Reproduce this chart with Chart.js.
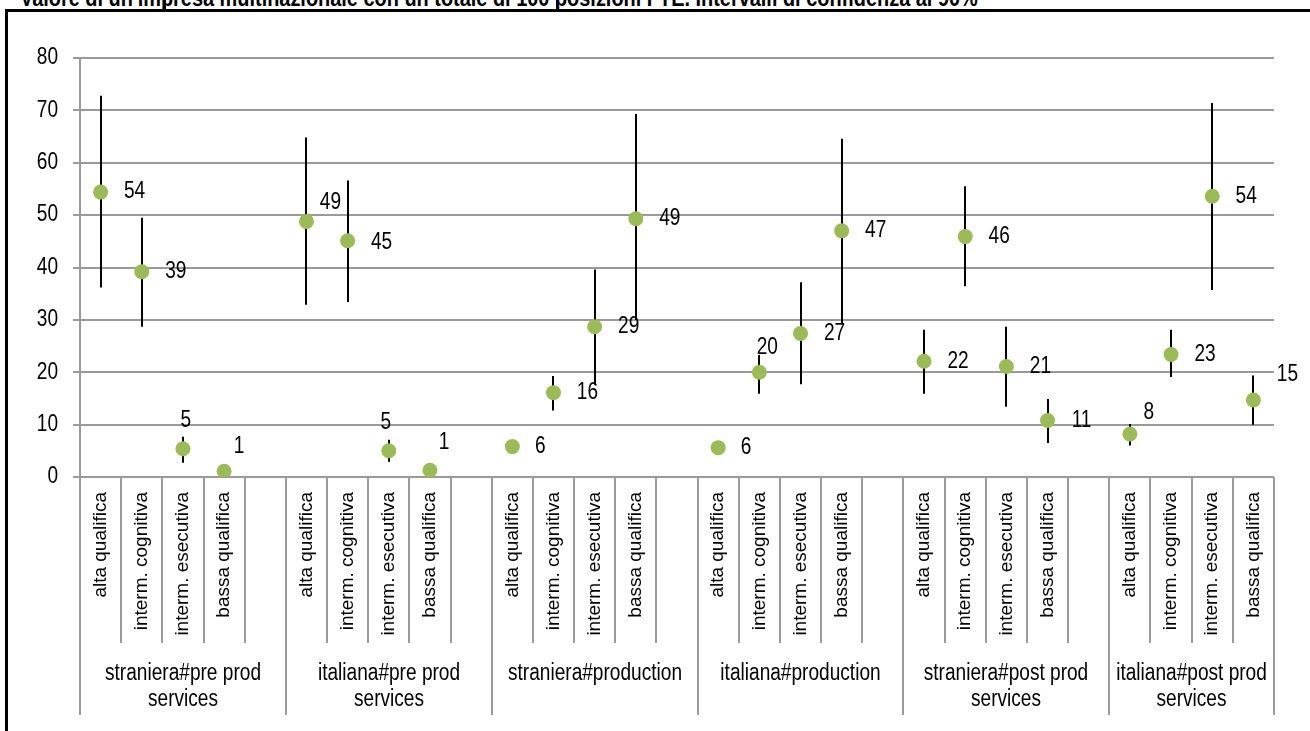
<!DOCTYPE html>
<html>
<head>
<meta charset="utf-8">
<script src="https://cdn.jsdelivr.net/npm/chart.js@4.4.1/dist/chart.umd.min.js"></script>
<style>
  body { margin: 0; background: #fff; overflow: hidden; width: 1310px; height: 731px; position: relative; }
  #title { position: absolute; left: 20px; top: -14px; font: bold 24px 'Liberation Sans', Arial, sans-serif; line-height: 24px; white-space: nowrap; color: #000; transform: scaleX(0.83); transform-origin: 0 0; }
  #frame { position: absolute; left: 5px; top: 9px; width: 1320px; height: 740px; border: 3px solid #000; }
  .stub { position: absolute; top: 0; width: 1px; height: 10px; background: #000; }
  #wrap { position: absolute; left: 0; top: 0; width: 1310px; height: 731px; }
</style>
</head>
<body>
<div id="title">Valore di un'impresa multinazionale con un totale di 100 posizioni FTE. Intervalli di confidenza al 90%</div>
<div id="frame"></div>
<div class="stub" style="left:165px"></div>
<div class="stub" style="left:556px"></div>
<div id="wrap"><canvas id="chart"></canvas></div>
<script>
// categorie
const qualifiche = ["alta qualifica", "interm. cognitiva", "interm. esecutiva", "bassa qualifica"];
const gruppi = [
  ["straniera#pre prod", "services"],
  ["italiana#pre prod", "services"],
  ["straniera#production"],
  ["italiana#production"],
  ["straniera#post prod", "services"],
  ["italiana#post prod", "services"]
];

// stime puntuali (4 per gruppo)
const valori = [
  54.4, 39.2, 5.4, 1.1,
  48.8, 45.1, 5.0, 1.3,
  5.8, 16.1, 28.7, 49.3,
  5.6, 20.0, 27.4, 47.0,
  22.1, 45.9, 21.1, 10.8,
  8.2, 23.4, 53.6, 14.7
];
// intervallo di confidenza 90%
const limiteInf = [
  36.2, 28.7, 2.7, 1.1,
  32.9, 33.4, 2.9, 1.3,
  4.5, 12.7, 17.6, 30.0,
  5.2, 15.9, 17.7, 29.4,
  15.9, 36.4, 13.4, 6.5,
  6.0, 19.1, 35.7, 10.0
];
const limiteSup = [
  72.8, 49.5, 7.7, 1.1,
  64.8, 56.6, 7.1, 1.3,
  7.0, 19.3, 39.6, 69.3,
  6.0, 23.3, 37.2, 64.6,
  28.1, 55.5, 28.7, 14.9,
  10.1, 28.1, 71.4, 19.4
];
const yTicks = [0, 10, 20, 30, 40, 50, 60, 70, 80];

// posizione etichette spostate a mano (come in Excel), default a destra
const spostamenti = { 2: [3, -28], 3: [15, -25], 4: [24, -19], 5: [34, 2], 6: [-3, -28], 7: [14, -28],
  8: [28, 0], 12: [28, 0], 13: [8, -25], 20: [19, -21], 23: [34, -25] };

const FONT = "'Liberation Sans', Arial, sans-serif";
const GRID = "#9a9a9a";
const STRETTO = 0.83; // il testo dell'originale è compresso in orizzontale

function testoStretto(ctx, t, x, y) {
  ctx.save();
  ctx.translate(x, y);
  ctx.scale(STRETTO, 1);
  ctx.fillText(t, 0, 0);
  ctx.restore();
}

// slot: 4 categorie + 1 vuoto tra i gruppi
const etichette = [], dati = [], slotPunto = [], inizioGruppo = [];
gruppi.forEach((g, gi) => {
  inizioGruppo.push(etichette.length);
  qualifiche.forEach((q, qi) => {
    slotPunto.push(etichette.length);
    etichette.push(q);
    dati.push(valori[gi * 4 + qi]);
  });
  if (gi < gruppi.length - 1) { etichette.push(""); dati.push(null); }
});
inizioGruppo.push(etichette.length);

const extra = {
  id: "extra",
  beforeDatasetsDraw(chart) {
    const { ctx, scales: { x, y } } = chart;
    ctx.save();
    ctx.strokeStyle = "#000";
    ctx.lineWidth = 2;
    slotPunto.forEach((s, i) => {
      if (limiteSup[i] - limiteInf[i] < 0.2) return;
      const px = Math.round(x.getPixelForValue(s));
      ctx.beginPath();
      ctx.moveTo(px, y.getPixelForValue(limiteSup[i]));
      ctx.lineTo(px, y.getPixelForValue(limiteInf[i]));
      ctx.stroke();
    });
    ctx.restore();
  },
  afterDatasetsDraw(chart) {
    const { ctx, scales: { x, y } } = chart;
    ctx.save();
    ctx.font = "23px " + FONT;
    ctx.fillStyle = "#000";
    ctx.textAlign = "center";
    ctx.textBaseline = "middle";
    slotPunto.forEach((s, i) => {
      const [dx, dy] = spostamenti[i] || [34, 0];
      testoStretto(ctx, String(Math.round(valori[i])), x.getPixelForValue(s) + dx, y.getPixelForValue(valori[i]) + dy);
    });
    ctx.restore();
  },
  afterDraw(chart) {
    const { ctx, scales: { x, y }, chartArea } = chart;
    const w = x.getPixelForValue(1) - x.getPixelForValue(0);
    const bordo = i => Math.round(x.getPixelForValue(i) - w / 2);
    const top = chartArea.bottom;
    ctx.save();
    // etichette asse y
    ctx.font = "23px " + FONT;
    ctx.fillStyle = "#000";
    ctx.textAlign = "right";
    ctx.textBaseline = "middle";
    y.ticks.forEach(t => testoStretto(ctx, String(t.value), y.right - 22, y.getPixelForValue(t.value)));
    // separatori categorie e gruppi
    ctx.strokeStyle = GRID;
    ctx.lineWidth = 2;
    for (let i = 0; i <= etichette.length; i++) {
      const isGruppo = inizioGruppo.includes(i);
      ctx.beginPath();
      ctx.moveTo(bordo(i), top);
      ctx.lineTo(bordo(i), isGruppo ? x.bottom : top + 166);
      ctx.stroke();
    }
    ctx.textAlign = "center";
    gruppi.forEach((g, gi) => {
      const cx = (bordo(inizioGruppo[gi]) + bordo(inizioGruppo[gi + 1])) / 2;
      g.forEach((riga, r) => testoStretto(ctx, riga, cx, top + 197 + r * 26));
    });
    ctx.restore();
  }
};

new Chart(document.getElementById("chart"), {
  type: "line",
  data: {
    labels: etichette,
    datasets: [{
      data: dati,
      showLine: false,
      pointRadius: 7.5,
      pointHoverRadius: 7.5,
      pointBackgroundColor: "#9bbb59",
      pointBorderWidth: 0,
      borderColor: "#9bbb59"
    }]
  },
  options: {
    responsive: true,
    maintainAspectRatio: false,
    animation: false,
    events: [],
    layout: { padding: { left: 0, right: 36, top: 58, bottom: 16 } },
    scales: {
      x: {
        offset: true,
        afterFit: s => { s.height = 238; },
        grid: { display: false, drawTicks: false, offset: true },
        border: { display: false },
        ticks: {
          autoSkip: false, maxRotation: 90, minRotation: 90, padding: 15,
          color: "#000", font: { family: FONT, size: 19 }
        }
      },
      y: {
        min: 0, max: 80,
        afterFit: s => { s.width = 80; },
        afterBuildTicks: s => { s.ticks = yTicks.map(v => ({ value: v })); },
        grid: { color: GRID, lineWidth: 2, tickLength: 7 },
        border: { display: true, color: GRID, width: 2 },
        ticks: { display: false }
      }
    },
    plugins: { legend: { display: false }, tooltip: { enabled: false }, title: { display: false } }
  },
  plugins: [extra]
});
</script>
</body>
</html>
